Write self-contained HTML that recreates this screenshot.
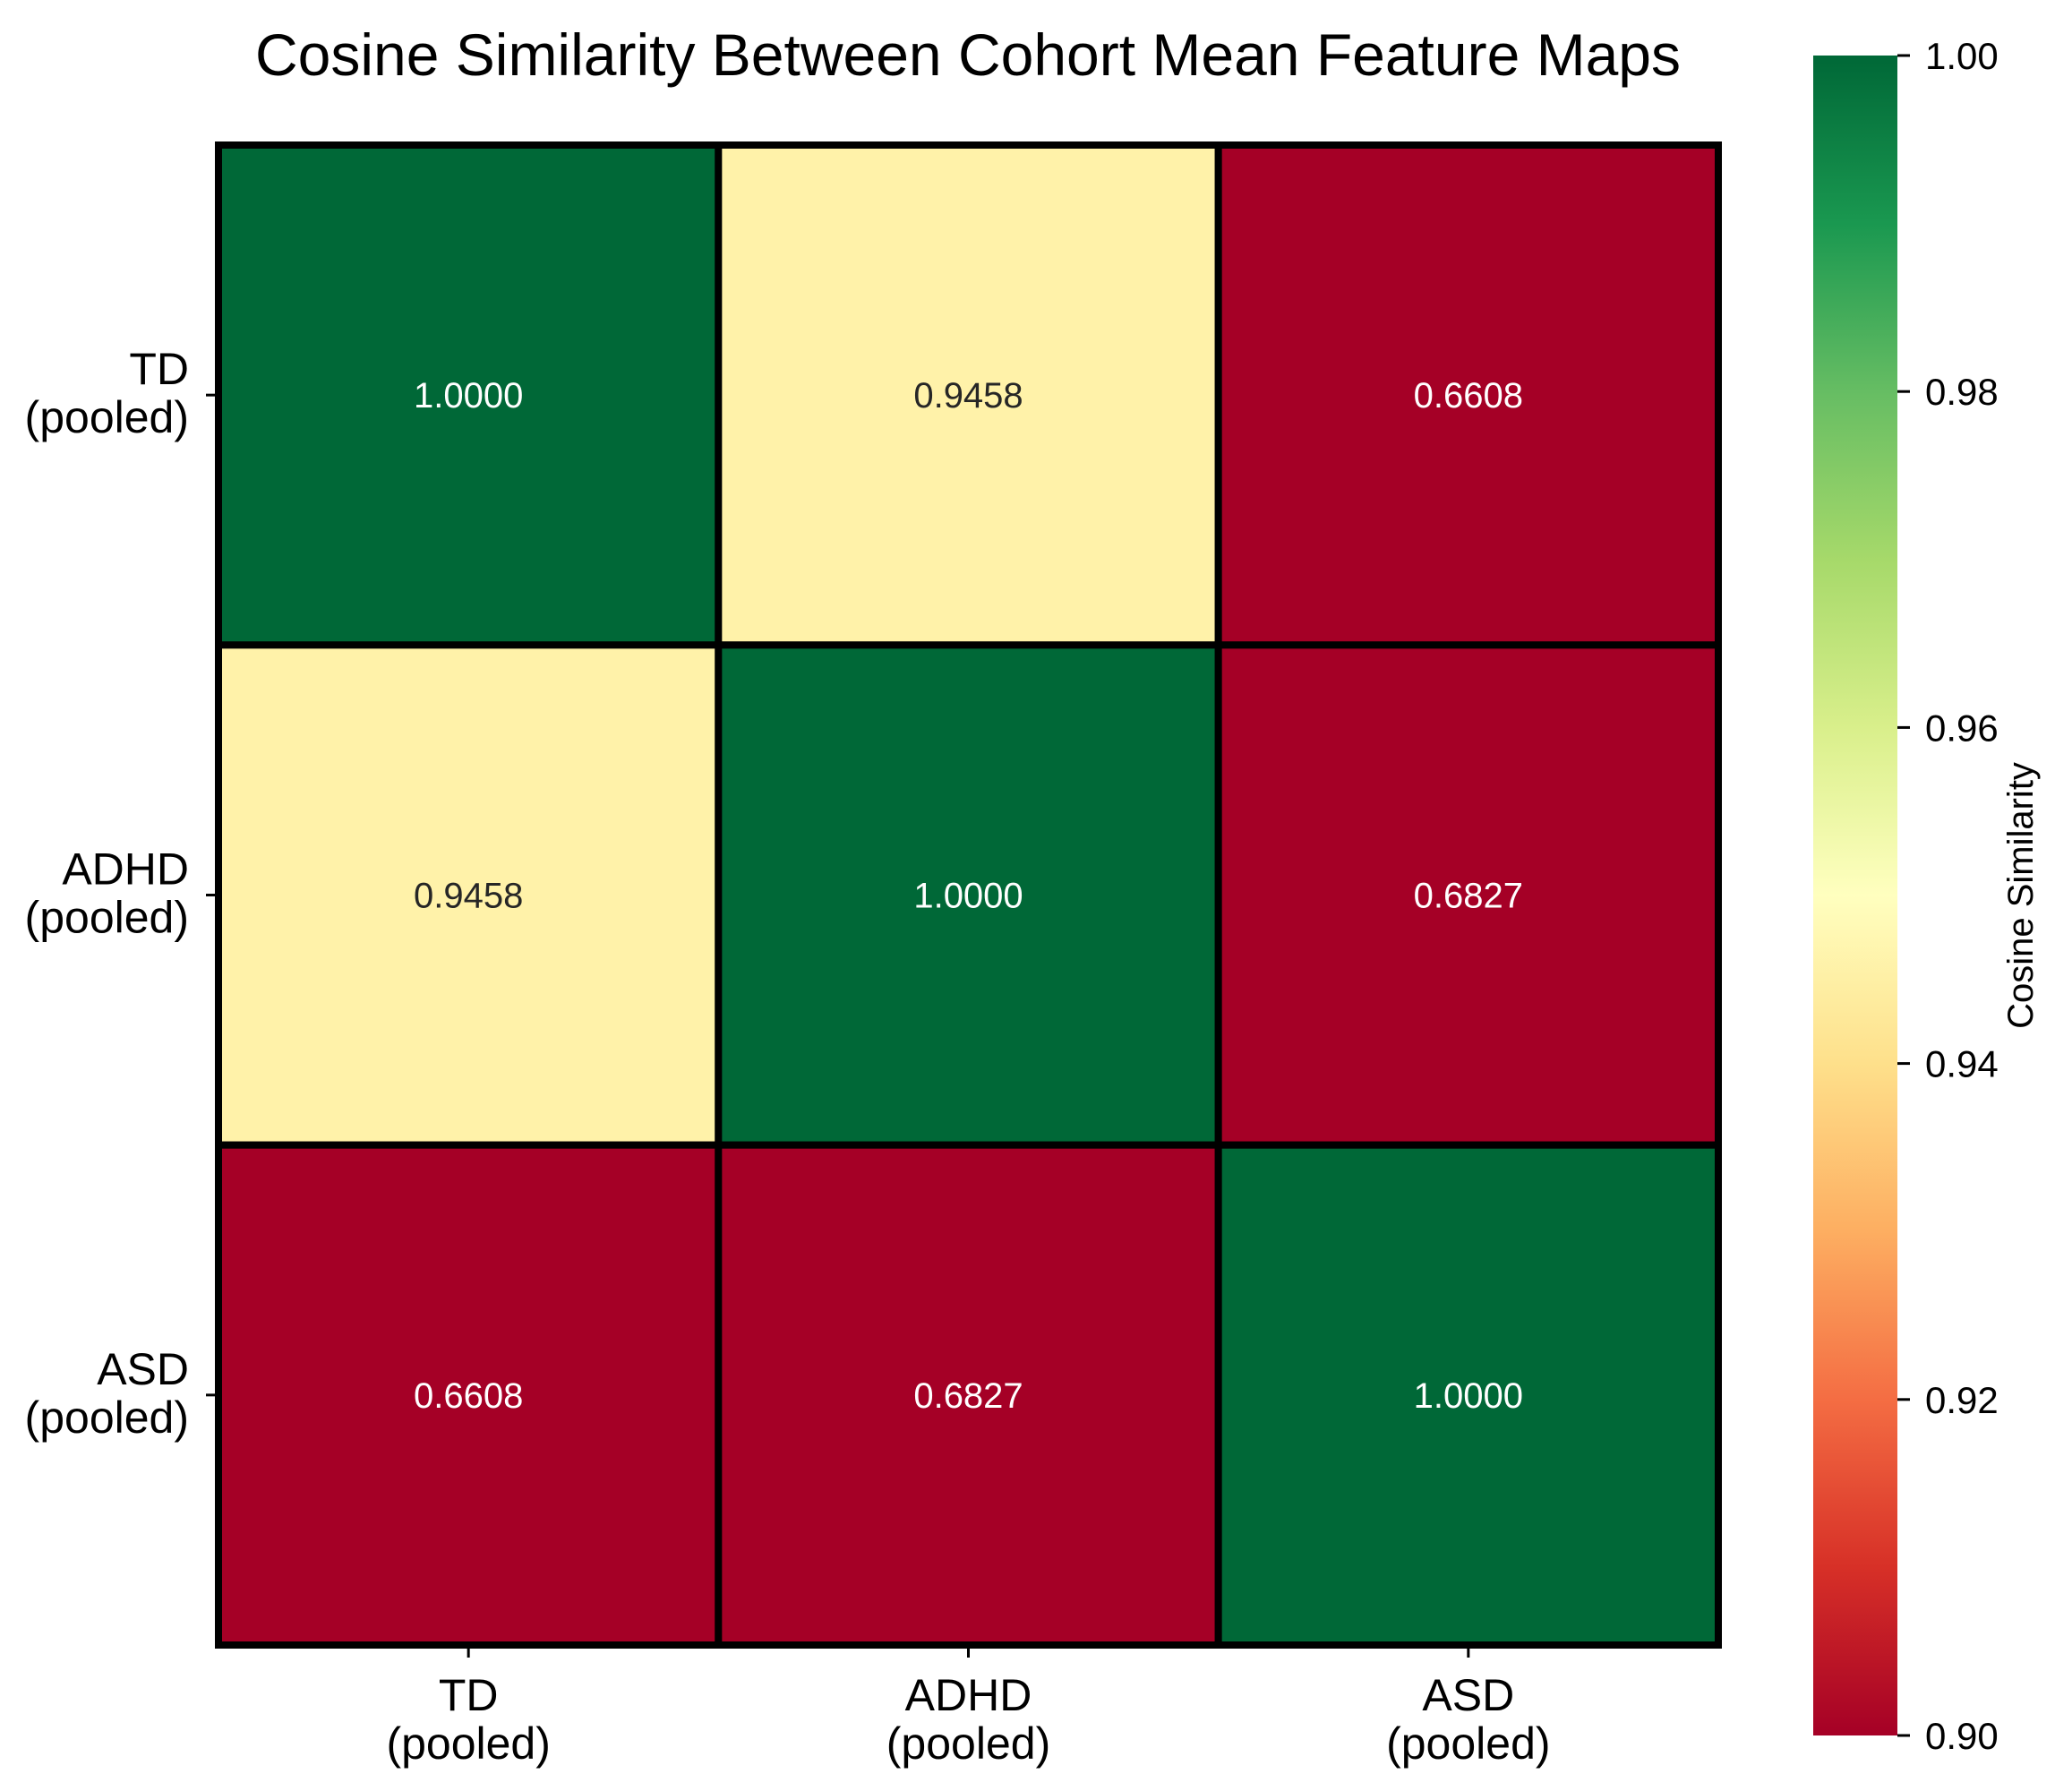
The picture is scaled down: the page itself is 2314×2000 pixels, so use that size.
<!DOCTYPE html>
<html><head><meta charset="utf-8"><style>body{margin:0;background:#fff}svg{display:block;font-family:"Liberation Sans",sans-serif}</style></head>
<body>
<svg id="chart" width="2314" height="2000" viewBox="0 0 2314 2000" xmlns="http://www.w3.org/2000/svg">
<defs><linearGradient id="cg" x1="0" y1="1" x2="0" y2="0">
<stop offset="0" stop-color="#a50026"/><stop offset="0.1" stop-color="#d73027"/><stop offset="0.2" stop-color="#f46d43"/><stop offset="0.3" stop-color="#fdae61"/><stop offset="0.4" stop-color="#fee08b"/><stop offset="0.5" stop-color="#ffffbf"/><stop offset="0.6" stop-color="#d9ef8b"/><stop offset="0.7" stop-color="#a6d96a"/><stop offset="0.8" stop-color="#66bd63"/><stop offset="0.9" stop-color="#1a9850"/><stop offset="1" stop-color="#006837"/>
</linearGradient></defs>
<text x="1081" y="84" font-size="66" text-anchor="middle">Cosine Similarity Between Cohort Mean Feature Maps</text>
<g id="cells"></g>
<g id="labels"></g>
<rect x="2025" y="62" width="94" height="1876" fill="url(#cg)"/>
<g id="cbticks"></g>
<text transform="translate(2270,1000) rotate(-90)" font-size="40" text-anchor="middle">Cosine Similarity</text>
</svg>
<script>
const categories = ["TD", "ADHD", "ASD"];
const values = [[1.0000, 0.9458, 0.6608],[0.9458, 1.0000, 0.6827],[0.6608, 0.6827, 1.0000]];
const cbTicks = ["0.90","0.92","0.94","0.96","0.98","1.00"];
const vmin = 0.9, vmax = 1.0;
const NS = "http://www.w3.org/2000/svg";
const L = 244, T = 162, S = 1675;
const cw = S / categories.length;
const xPos = i => L + i * cw;
const yPos = i => T + i * cw;
const cbY = v => 1938 - (v - vmin) / (vmax - vmin) * 1876;
const stops = [[165,0,38],[215,48,39],[244,109,67],[253,174,97],[254,224,139],[255,255,191],[217,239,139],[166,217,106],[102,189,99],[26,152,80],[0,104,55]];
function color(v){let t=Math.max(0,Math.min(1,(v-vmin)/(vmax-vmin)))*10;let i=Math.min(9,Math.floor(t)),f=t-i;const a=stops[i],b=stops[i+1];return `rgb(${a.map((c,k)=>Math.round(c+(b[k]-c)*f)).join(',')})`;}
function mk(tag, attrs, parent, txt){const e=document.createElementNS(NS,tag);for(const k in attrs)e.setAttribute(k,attrs[k]);if(txt!==undefined)e.textContent=txt;parent.appendChild(e);return e;}
const cells=document.getElementById('cells'), labels=document.getElementById('labels'), cbt=document.getElementById('cbticks');
values.forEach((row,r)=>row.forEach((v,c)=>{
  const rc=mk('rect',{x:xPos(c),y:yPos(r),width:cw,height:cw,fill:color(v),stroke:'#000','stroke-width':8},cells);
  
  
  const t=(v-vmin)/(vmax-vmin);
  const tx=mk('text',{x:xPos(c)+cw/2,y:yPos(r)+cw/2+14,'font-size':40,'text-anchor':'middle',fill:(t>0.3&&t<0.7)?'#262626':'#ffffff'},cells,v.toFixed(4));
  
  
}));
const border=mk('rect',{x:L,y:T,width:S,height:S,fill:'none',stroke:'#000','stroke-width':5},cells);


categories.forEach((cat,i)=>{
  const cy=yPos(i)+cw/2, cx=xPos(i)+cw/2;
  mk('line',{x1:L-14,x2:L,y1:cy,y2:cy,stroke:'#000','stroke-width':3},labels);
  const yl=mk('text',{x:211,y:cy-12,'font-size':50,'text-anchor':'end'},labels);
  
  
  mk('tspan',{x:211,dy:0},yl,cat);
  mk('tspan',{x:211,dy:54},yl,'(pooled)');
  mk('line',{x1:cx,x2:cx,y1:T+S,y2:T+S+14,stroke:'#000','stroke-width':3},labels);
  const xl=mk('text',{x:cx,y:1910,'font-size':50,'text-anchor':'middle'},labels);
  
  
  mk('tspan',{x:cx,dy:0},xl,cat);
  mk('tspan',{x:cx,dy:54},xl,'(pooled)');
});
cbTicks.forEach(s=>{
  const y=cbY(parseFloat(s));
  mk('line',{x1:2119,x2:2133,y1:y,y2:y,stroke:'#000','stroke-width':3},cbt);
  const t=mk('text',{x:2150,y:y+15,'font-size':42},cbt,s);
  
  
});
</script>
</body></html>
